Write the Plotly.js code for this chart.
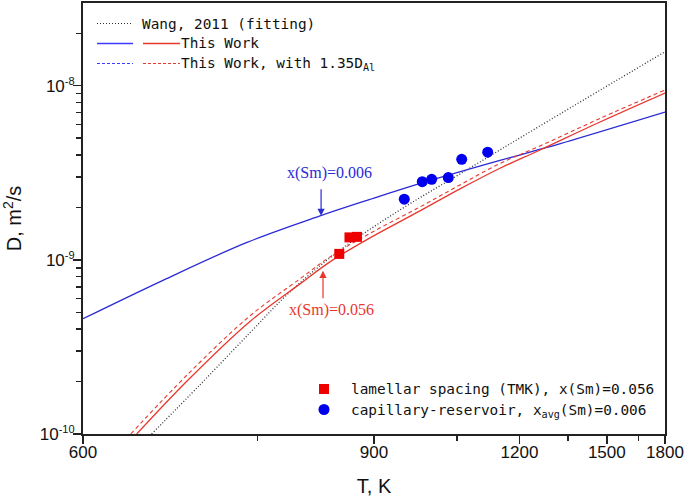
<!DOCTYPE html>
<html><head><meta charset="utf-8">
<script src="https://cdn.plot.ly/plotly-3.0.1.min.js"></script>
<style>html,body{margin:0;padding:0;background:#fff}#chart{width:685px;height:500px}</style>
</head><body><div id="chart"></div>
<script>
// ---- data (T in K, D in m^2/s) ----
const wangT = [651.2, 692.9, 741.9, 786.5, 848.9, 942.1, 1056, 1290.1, 1800];
const wangD = [1.0e-10, 1.918e-10, 3.814e-10, 6.55e-10, 1.126e-9, 1.936e-9, 3.114e-9, 6.36e-9, 1.567e-8];

const blueT = [600, 660.5, 738.8, 823.6, 893.8, 980.9, 1148.6, 1280.7, 1800];
const blueD = [4.59e-10, 7.63e-10, 1.26e-9, 1.788e-9, 2.224e-9, 2.765e-9, 3.723e-9, 4.42e-9, 7.06e-9];

const redT = [639.3, 682.3, 741.9, 798.5, 836.7, 893.8, 977.2, 1056, 1148.6, 1259.1, 1471.3, 1800];
const redD = [1.0e-10, 2.049e-10, 4.43e-10, 7.28e-10, 9.74e-10, 1.337e-9, 1.910e-9, 2.555e-9, 3.357e-9, 4.276e-9, 6.19e-9, 9.08e-9];

const redDashT = [634.7, 682.3, 741.9, 798.5, 836.7, 893.8, 977.2, 1056, 1148.6, 1259.1, 1471.3, 1800];
const redDashD = [1.0e-10, 2.218e-10, 4.77e-10, 7.78e-10, 1.040e-9, 1.419e-9, 2.013e-9, 2.694e-9, 3.578e-9, 4.508e-9, 6.49e-9, 9.45e-9];

const lamT = [849.3, 863.6, 874.4];
const lamD = [1.082e-9, 1.346e-9, 1.355e-9];

const capT = [949.4, 981.4, 999, 1031.7, 1059.7, 1118.5];
const capD = [2.23e-9, 2.81e-9, 2.90e-9, 2.97e-9, 3.78e-9, 4.15e-9];

const majorTickT = [600, 900, 1200, 1500, 1800];
const minorTickT = [750, 1050, 1350, 1650];
const yTickVals = [1e-10, 1e-9, 1e-8];
const yTickExp = ["-10", "-9", "-8"];

const legendLabels = ["Wang, 2011 (fitting)", "This Work", "This Work, with 1.35D<sub>Al</sub>"];
const markerLabels = ["lamellar spacing (TMK), x(Sm)=0.056", "capillary-reservoir, x<sub>avg</sub>(Sm)=0.006"];
const arrowLabels = ["x(Sm)=0.006", "x(Sm)=0.056"];
const arrowTipT = [825, 827.5];
const arrowTipD = [1.79e-9, 8.66e-10];

// reciprocal-temperature axis
const rx = arr => arr.map(t => 1000 / t);

const BLUE = '#2a2ad6', LBLUE = '#3b3bff', RED = '#e8382e', DARK = '#222', DOT = '#333';
const MONO = 'DejaVu Sans Mono, monospace';
const SANS = 'Liberation Sans, Arial, sans-serif';
const SERIF = 'Liberation Serif, Times New Roman, serif';

const traces = [
  {x: rx(wangT), y: wangD, mode: 'lines', line: {color: DOT, width: 1.3, dash: '1px,2px', shape: 'spline', smoothing: 1}},
  {x: rx(blueT), y: blueD, mode: 'lines', line: {color: BLUE, width: 1.3, shape: 'spline', smoothing: 1}},
  {x: rx(redDashT), y: redDashD, mode: 'lines', line: {color: RED, width: 1.1, dash: '4px,3px', shape: 'spline', smoothing: 1}},
  {x: rx(redT), y: redD, mode: 'lines', line: {color: RED, width: 1.3, shape: 'spline', smoothing: 1}},
  {x: rx(lamT), y: lamD, mode: 'markers', marker: {symbol: 'square', size: 10, color: '#ee0000'}},
  {x: rx(capT), y: capD, mode: 'markers', marker: {symbol: 'circle', size: 11, color: '#0000ee'}}
];

// pixel helpers for legend placement (plot area: x 83..665, y 3..434)
const L = 83, R = 665, TOP = 3, BOT = 434;
const px = v => (v - L) / (R - L);
const py = v => (BOT - v) / (BOT - TOP);

const shapes = [];
const annotations = [];
function legLine(x0, x1, y, color, dash, w) {
  shapes.push({type: 'line', xref: 'paper', yref: 'paper', x0: px(x0), x1: px(x1), y0: py(y), y1: py(y),
    line: {color: color, width: w || 1.2, dash: dash}});
}
function legText(x, y, text, font) {
  annotations.push({xref: 'paper', yref: 'paper', x: px(x), y: py(y), xanchor: 'left', yanchor: 'middle',
    text: text, showarrow: false, font: font, borderpad: 0});
}
const legFont = {family: MONO, size: 14.4, color: '#111'};
// top-left legend
legLine(97, 133, 23.5, DOT, '1px,2px', 1.2);
legText(141, 23.5, legendLabels[0], legFont);
legLine(97, 133, 43.5, LBLUE, 'solid', 1.3);
legLine(143, 180, 43.5, RED, 'solid', 1.3);
legText(180, 43.5, legendLabels[1], legFont);
legLine(97, 133, 63.5, LBLUE, '3px,2px', 1.2);
legLine(143, 180, 63.5, RED, '3px,2px', 1.2);
legText(180, 64, legendLabels[2], legFont);
// bottom-right legend
shapes.push({type: 'rect', xref: 'paper', yref: 'paper', xsizemode: 'pixel', ysizemode: 'pixel',
  xanchor: px(324), yanchor: py(389), x0: -5, x1: 5, y0: -5, y1: 5, fillcolor: '#ee0000', line: {width: 0}});
shapes.push({type: 'circle', xref: 'paper', yref: 'paper', xsizemode: 'pixel', ysizemode: 'pixel',
  xanchor: px(324), yanchor: py(409.5), x0: -5.5, x1: 5.5, y0: -5.5, y1: 5.5, fillcolor: '#0000ee', line: {width: 0}});
legText(350, 389, markerLabels[0], legFont);
legText(350, 410.5, markerLabels[1], legFont);

// arrows with labels
annotations.push({x: 1000 / arrowTipT[0], y: Math.log10(arrowTipD[0]), xref: 'x', yref: 'y', text: '',
  showarrow: true, arrowhead: 2, arrowsize: 1.2, arrowwidth: 1.2, arrowcolor: BLUE, ax: 0, ay: -28});
annotations.push({x: 1000 / arrowTipT[1], y: Math.log10(arrowTipD[1]), xref: 'x', yref: 'y', text: '',
  showarrow: true, arrowhead: 2, arrowsize: 1.2, arrowwidth: 1.2, arrowcolor: RED, ax: 0, ay: 29});
annotations.push({xref: 'paper', yref: 'paper', x: px(329.5), y: py(173), xanchor: 'center', yanchor: 'middle',
  text: arrowLabels[0], showarrow: false, font: {family: SERIF, size: 16, color: BLUE}});
annotations.push({xref: 'paper', yref: 'paper', x: px(331), y: py(310), xanchor: 'center', yanchor: 'middle',
  text: arrowLabels[1], showarrow: false, font: {family: SERIF, size: 16, color: RED}});

const layout = {
  width: 685, height: 500,
  margin: {l: L, r: 685 - R, t: TOP, b: 500 - BOT},
  paper_bgcolor: '#fff', plot_bgcolor: '#fff',
  showlegend: false,
  xaxis: {
    range: [1000 / 600, 1000 / 1800],
    tickmode: 'array', tickvals: rx(majorTickT), ticktext: majorTickT.map(String),
    ticks: 'outside', ticklen: 8, tickwidth: 1.5, tickcolor: DARK,
    ticklabelstandoff: -6,
    minor: {tickmode: 'array', tickvals: rx(minorTickT), ticks: 'outside', ticklen: 5, tickwidth: 1.5, tickcolor: DARK, showgrid: false},
    showline: true, linewidth: 2, linecolor: DARK, mirror: true,
    showgrid: false, zeroline: false,
    tickfont: {family: SANS, size: 17, color: '#111'},
    title: {text: 'T, K', font: {family: SANS, size: 20, color: '#111'}, standoff: 18}
  },
  yaxis: {
    type: 'log', range: [-10, -7.525],
    tickmode: 'array', tickvals: yTickVals,
    ticktext: yTickExp.map(e => '10<sup><span style="font-size:11px">' + e + '</span></sup>'),
    ticks: 'outside', ticklen: 8, tickwidth: 1.5, tickcolor: DARK,
    ticklabelstandoff: -5,
    minor: {dtick: 'D1', ticks: 'outside', ticklen: 5, tickwidth: 1.5, tickcolor: DARK, showgrid: false},
    showline: true, linewidth: 2, linecolor: DARK, mirror: true,
    showgrid: false, zeroline: false,
    tickfont: {family: SANS, size: 17, color: '#111'},
    title: {text: 'D, m<sup>2</sup>/s', font: {family: SANS, size: 20, color: '#111'}, standoff: 20}
  },
  shapes: shapes,
  annotations: annotations
};

Plotly.newPlot('chart', traces, layout, {displayModeBar: false, staticPlot: true});
</script>
</body></html>
